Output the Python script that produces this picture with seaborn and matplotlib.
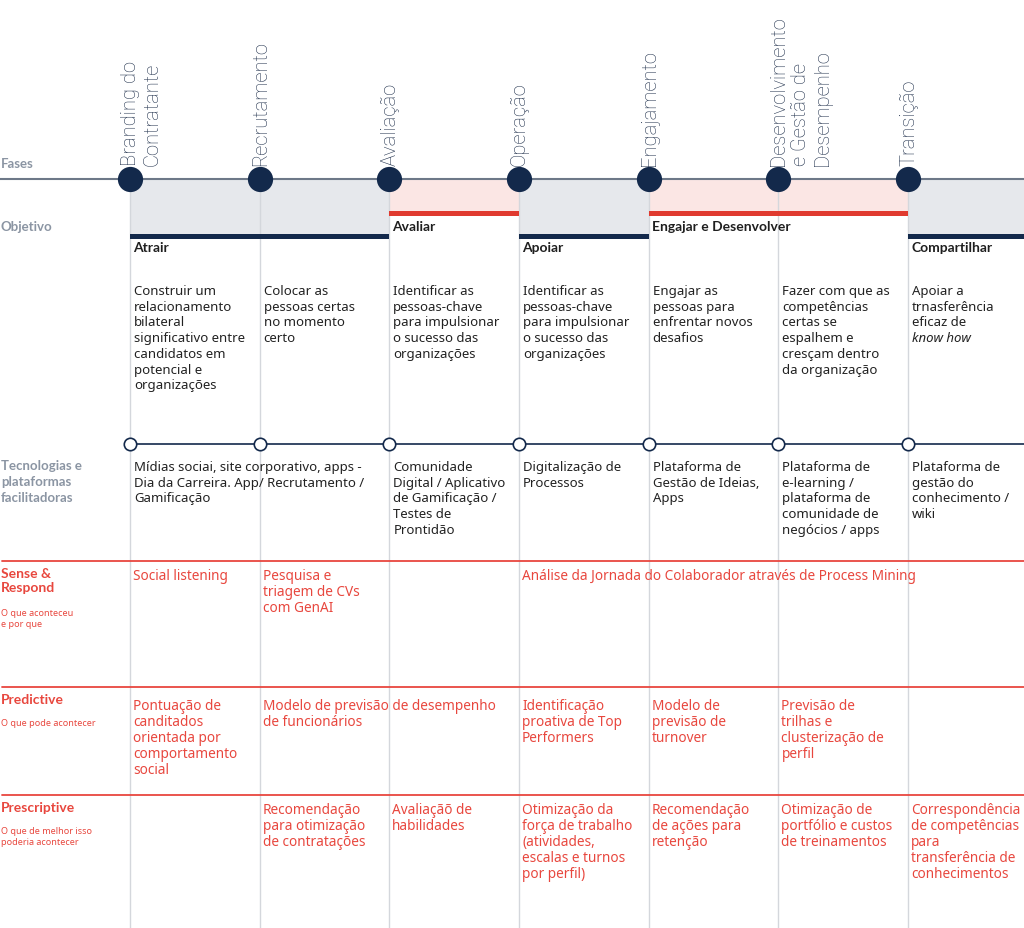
import numpy as np
import pandas as pd
import matplotlib.pyplot as plt
import seaborn as sns

# Phases of the journey
phases = ['Branding do\nContratante', 'Recrutamento', 'Avaliação', 'Operação',
          'Engajamento', 'Desenvolvimento\ne Gestão de\nDesempenho', 'Transição']

# Objectives: (label, first phase, last phase, kind)
obj_labels = ['Atrair', 'Avaliar', 'Apoiar', 'Engajar e Desenvolver', 'Compartilhar']
obj_start = [0, 2, 3, 4, 6]
obj_end = [2, 3, 4, 6, 7]
obj_kind = ['navy', 'red', 'navy', 'red', 'navy']

obj_texts = ['Construir um\nrelacionamento\nbilateral\nsignificativo entre\ncandidatos em\npotencial e\norganizações',
             'Colocar as\npessoas certas\nno momento\ncerto',
             'Identificar as\npessoas-chave\npara impulsionar\no sucesso das\norganizações',
             'Identificar as\npessoas-chave\npara impulsionar\no sucesso das\norganizações',
             'Engajar as\npessoas para\nenfrentar novos\ndesafios',
             'Fazer com que as\ncompetências\ncertas se\nespalhem e\ncresçam dentro\nda organização',
             'Apoiar a\ntrnasferência\neficaz de']

tech_texts = ['Mídias sociai, site corporativo, apps -\nDia da Carreira. App/ Recrutamento /\nGamificação',
              '',
              'Comunidade\nDigital / Aplicativo\nde Gamificação /\nTestes de\nProntidão',
              'Digitalização de\nProcessos',
              'Plataforma de\nGestão de Ideias,\nApps',
              'Plataforma de\ne-learning /\nplataforma de\ncomunidade de\nnegócios / apps',
              'Plataforma de\ngestão do\nconhecimento /\nwiki']

sense_texts = ['Social listening', 'Pesquisa e\ntriagem de CVs\ncom GenAI', '',
               'Análise da Jornada do Colaborador através de Process Mining', '', '', '']
predictive_texts = ['Pontuação de\ncanditados\norientada por\ncomportamento\nsocial',
                    'Modelo de previsão de desempenho\nde funcionários', '',
                    'Identificação\nproativa de Top\nPerformers',
                    'Modelo de\nprevisão de\nturnover',
                    'Previsão de\ntrilhas e\nclusterização de\nperfil', '']
prescriptive_texts = ['', 'Recomendação\npara otimização\nde contratações',
                      'Avaliaçãõ de\nhabilidades',
                      'Otimização da\nforça de trabalho\n(atividades,\nescalas e turnos\npor perfil)',
                      'Recomendação\nde ações para\nretenção',
                      'Otimização de\nportfólio e custos\nde treinamentos',
                      'Correspondência\nde competências\npara\ntransferência de\nconhecimentos']

row_titles = ['Sense &\nRespond', 'Predictive', 'Prescriptive']
row_subtitles = ['O que aconteceu\ne por que', 'O que pode acontecer',
                 'O que de melhor isso\npoderia acontecer']

NAVY = '#13294b'
RED = '#e03a2f'
RED_TXT = '#e8473e'
GREY_LBL = '#8b95a3'
FILL_GREY = '#e6e8ec'
FILL_PINK = '#fbe6e4'
GRID = '#d4d7dc'
BOLD = ['Lato', 'DejaVu Sans']

sns.set_theme(style='white')
plt.rcParams['font.family'] = ['Noto Sans', 'DejaVu Sans']

fig = plt.figure(figsize=(10.24, 9.29), dpi=100)
ax = fig.add_axes([0, 0, 1, 1])
XL, XR = -1.0025, 6.894

px = (XR - XL) / 1024.0  # one pixel in x units
n = len(phases)
xs = np.arange(n)

# vertical guides
for x in xs:
    ax.plot([x, x], [180, 929], color=GRID, lw=1, zorder=1)

# objective bands
for lab, s, e, k in zip(obj_labels, obj_start, obj_end, obj_kind):
    e = min(e, XR)
    if k == 'navy':
        ax.fill_between([s, e], 181, 238, color=FILL_GREY, zorder=0, lw=0)
        ax.fill_between([s, e], 235, 240, color=NAVY, zorder=2, lw=0)
        ax.text(s + 3 * px, 248, lab, fontsize=10, fontweight='bold', family=BOLD,
                color='#1f1f1f', va='center', ha='left', zorder=3)
    else:
        ax.fill_between([s, e], 181, 213, color=FILL_PINK, zorder=0, lw=0)
        ax.fill_between([s, e], 212, 217, color=RED, zorder=2, lw=0)
        ax.text(s + 3 * px, 227, lab, fontsize=10, fontweight='bold', family=BOLD,
                color='#1f1f1f', va='center', ha='left', zorder=3)

# phase line and nodes
ax.plot([XL, XR], [180, 180], color='#6d7888', lw=1.5, zorder=3)
nodes = pd.DataFrame({'x': xs, 'y': [180] * n})
sns.scatterplot(data=nodes, x='x', y='y', s=330, color=NAVY, edgecolor=NAVY,
                linewidth=0, zorder=4, ax=ax, legend=False)
for x, lab in zip(xs, phases):
    ax.text(x - 9 * px, 166, lab, rotation=90, fontsize=14.5, fontweight='light',
            family=['Roboto', 'DejaVu Sans'], color='#24344f', ha='left', va='bottom',
            multialignment='left', linespacing=1.2)

# left labels
ax.text(XL + 1 * px, 164, 'Fases', fontsize=9.5, fontweight='bold', family=BOLD,
        color=GREY_LBL, va='center')
ax.text(XL + 1 * px, 227, 'Objetivo', fontsize=9.5, fontweight='bold', family=BOLD,
        color=GREY_LBL, va='center')
ax.text(XL + 1 * px, 482, 'Tecnologias e\nplataformas\nfacilitadoras', fontsize=9.5,
        fontweight='bold', family=BOLD, color=GREY_LBL, va='center', linespacing=1.4)

# objective descriptions
for x, t in zip(xs, obj_texts):
    ax.text(x + 4 * px, 285, t, fontsize=9.5, color='#222222', va='top', ha='left',
            linespacing=1.27)
ax.text(6 + 4 * px, 332, 'know how', fontsize=9.5, color='#222222', style='italic',
        va='top', ha='left')

# technology line
ax.plot([0, XR], [445, 445], color=NAVY, lw=1.2, zorder=3)
tech = pd.DataFrame({'x': xs, 'y': [445] * n})
sns.scatterplot(data=tech, x='x', y='y', s=80, color='white', edgecolor=NAVY,
                linewidth=1.2, zorder=4, ax=ax, legend=False)
for x, t in zip(xs, tech_texts):
    ax.text(x + 4 * px, 461, t, fontsize=9.5, color='#222222', va='top', ha='left',
            linespacing=1.27)

# analytics rows
row_y = [562, 688, 796]
row_pad = [7, 11, 7]
row_texts = [sense_texts, predictive_texts, prescriptive_texts]
for y, pad, title, sub, texts in zip(row_y, row_pad, row_titles, row_subtitles, row_texts):
    ax.plot([XL + 2 * px, XR], [y, y], color='#e8463f', lw=1.3, zorder=3)
    ax.text(XL + 1 * px, y + 6, title, fontsize=10, fontweight='bold', family=BOLD,
            color=RED_TXT, va='top', ha='left', linespacing=1.15)
    sub_y = y + 47 if '\n' in title else y + 31
    ax.text(XL + 1 * px, sub_y, sub, fontsize=6.5, color=RED_TXT, va='top', ha='left',
            linespacing=1.3)
    for x, t in zip(xs, texts):
        if t:
            ax.text(x + 3 * px, y + pad, t, fontsize=9.8, color=RED_TXT, va='top',
                    ha='left', linespacing=1.1)

ax.set_xlim(XL, XR)
ax.set_ylim(929, 0)
ax.axis('off')
fig.savefig('out.png', dpi=100)
